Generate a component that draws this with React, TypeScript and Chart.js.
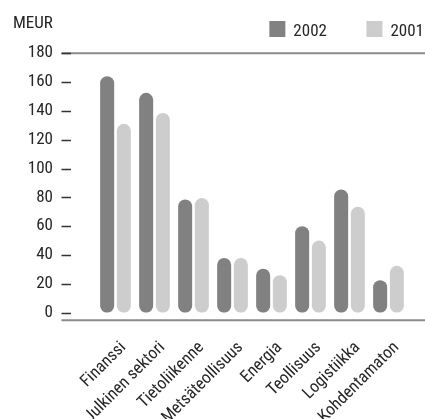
import React, { useEffect, useRef } from "react";
import { Chart, registerables } from "chart.js";

Chart.register(...registerables);

const categories = [
  "Finanssi",
  "Julkinen sektori",
  "Tietoliikenne",
  "Metsäteollisuus",
  "Energia",
  "Teollisuus",
  "Logistiikka",
  "Kohdentamaton",
];
const series2002 = [164, 152.5, 78.5, 38, 30.5, 60, 85.5, 22.5];
const series2001 = [131, 138.5, 79.5, 38, 26, 50, 73.5, 32.5];
const seriesLabels = ["2002", "2001"];
const seriesColors = ["#818181", "#cdcdcd"];
const yMin = 0;
const yMax = 180;
const yStep = 20;
const unitLabel = "MEUR";

const FAMILY = "Roboto";
const STRETCH = "condensed";
const FS = 17;
const CSSFONT = `${STRETCH} ${FS}px ${FAMILY}`;
const TEXT = "#262626";
const LINE = "#8a8a8a";
const TICK_PAD = 43;

const decor = {
  id: "decor",
  afterDraw(chart: any) {
    const ctx = chart.ctx as CanvasRenderingContext2D;
    const ys = chart.scales.y;
    const area = chart.chartArea;
    const W = chart.width;
    const labelRight = ys.right - TICK_PAD;
    const lineStart = labelRight + 8.5;
    ctx.save();
    ctx.strokeStyle = LINE;
    ctx.lineWidth = 2;
    ctx.beginPath();
    ctx.moveTo(lineStart, area.top);
    ctx.lineTo(W, area.top);
    ctx.moveTo(lineStart, area.bottom + 7.5);
    ctx.lineTo(W, area.bottom + 7.5);
    ctx.stroke();
    ctx.strokeStyle = "#333333";
    ctx.lineWidth = 1.3;
    ctx.beginPath();
    ys.ticks.forEach((_t: any, i: number) => {
      const y = Math.round(ys.getPixelForTick(i)) + 0.5;
      ctx.moveTo(lineStart, y);
      ctx.lineTo(labelRight + 18, y);
    });
    ctx.stroke();
    ctx.fillStyle = TEXT;
    ctx.font = CSSFONT;
    ctx.textAlign = "left";
    ctx.textBaseline = "alphabetic";
    ctx.fillText(unitLabel, 13, 28);
    const box = 16;
    const gapText = 8;
    const gapItem = 39.5;
    const ds = chart.data.datasets;
    const widths = ds.map((d: any) => ctx.measureText(d.label).width);
    let total = 0;
    ds.forEach((_d: any, i: number) => {
      total += box + gapText + widths[i];
      if (i < ds.length - 1) total += gapItem;
    });
    let x = W - 1 - total;
    const boxTop = 21;
    ds.forEach((d: any, i: number) => {
      ctx.fillStyle = d.backgroundColor;
      ctx.fillRect(x, boxTop, box, box);
      ctx.fillStyle = TEXT;
      ctx.textBaseline = "alphabetic";
      ctx.fillText(d.label, x + box + gapText, boxTop + 14.5);
      x += box + gapText + widths[i] + gapItem;
    });
    ctx.restore();
  },
};

export default function App() {
  const ref = useRef<HTMLCanvasElement | null>(null);
  useEffect(() => {
    let chart: Chart | null = null;
    let cancelled = false;
    const make = () => {
      if (cancelled || !ref.current) return;
      const font = { family: FAMILY, size: FS, weight: STRETCH as any };
      chart = new Chart(ref.current, {
        type: "bar",
        data: {
          labels: categories,
          datasets: [
            { label: seriesLabels[0], data: series2002, backgroundColor: seriesColors[0] },
            { label: seriesLabels[1], data: series2001, backgroundColor: seriesColors[1] },
          ],
        },
        options: {
          responsive: false,
          animation: false,
          devicePixelRatio: 1,
          layout: { padding: { top: 51, right: 17, left: 0, bottom: 0 } },
          datasets: {
            bar: {
              categoryPercentage: 0.856,
              barPercentage: 0.84,
              borderRadius: 7,
              borderSkipped: false,
            },
          } as any,
          plugins: {
            legend: { display: false },
            tooltip: { enabled: false },
          },
          scales: {
            x: {
              grid: { display: false, drawTicks: true, tickLength: 11 },
              border: { display: false },
              ticks: {
                autoSkip: false,
                minRotation: 45,
                maxRotation: 45,
                padding: 14,
                labelOffset: 8,
                color: TEXT,
                font,
              },
              afterFit: (s: any) => {
                s.height = 106.3;
              },
            },
            y: {
              min: yMin,
              max: yMax,
              grid: { display: false, drawTicks: false },
              border: { display: false },
              ticks: {
                stepSize: yStep,
                padding: TICK_PAD,
                color: TEXT,
                font,
              },
              afterFit: (s: any) => {
                s.width = 96;
              },
            },
          },
        },
        plugins: [decor],
      });
    };
    const fonts: any = (document as any).fonts;
    if (fonts && fonts.load) {
      fonts.load(CSSFONT).then(make, make);
    } else make();
    return () => {
      cancelled = true;
      if (chart) chart.destroy();
    };
  }, []);
  return (
    <div style={{ position: "absolute", left: 0, top: 0, width: 425, height: 419, background: "#fff" }}>
      <canvas ref={ref} width={425} height={419} />
    </div>
  );
}
